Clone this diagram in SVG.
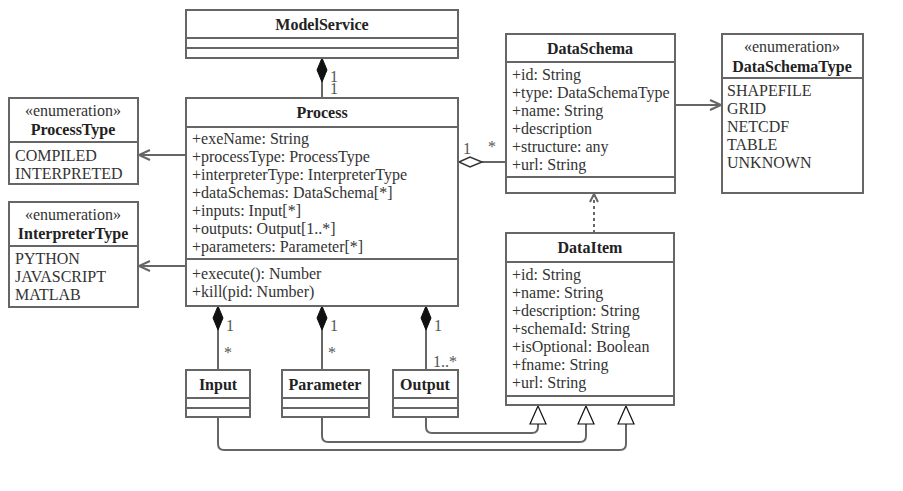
<svg xmlns="http://www.w3.org/2000/svg" width="903" height="491" viewBox="0 0 903 491">
<style>
.box{fill:#fff;stroke:#666;stroke-width:2}
.ln{fill:none;stroke:#666;stroke-width:2}
.t{font-family:"Liberation Serif",serif;font-size:16px;fill:#333}
.b{font-family:"Liberation Serif",serif;font-size:16px;font-weight:bold;fill:#222;text-anchor:middle}
.s{font-family:"Liberation Serif",serif;font-size:16px;fill:#333;text-anchor:middle}
.m{font-family:"Liberation Serif",serif;font-size:16px;fill:#555}
</style>
<rect width="903" height="491" fill="#fff"/>
<g id="connectors">
  <!-- ModelService - Process composition -->
  <line class="ln" x1="322" y1="58" x2="322" y2="98"/>
  <path d="M322 58 L327 70 L322 82 L317 70 Z" fill="#111" stroke="#111"/>
  <text class="m" x="330" y="82">1</text>
  <text class="m" x="330" y="94">1</text>
  <!-- Process to enums -->
  <line class="ln" x1="186" y1="155" x2="139" y2="155"/>
  <path class="ln" d="M150 150 L139 155 L150 160" stroke-width="1.5"/>
  <line class="ln" x1="186" y1="266" x2="139" y2="266"/>
  <path class="ln" d="M150 261 L139 266 L150 271" stroke-width="1.5"/>
  <!-- Process - DataSchema aggregation -->
  <line class="ln" x1="482" y1="162" x2="506" y2="162"/>
  <path d="M459 162 L470 157 L482 162 L470 167 Z" fill="#fff" stroke="#333" stroke-width="1.5"/>
  <text class="m" x="463" y="154">1</text>
  <text class="m" x="488" y="152">*</text>
  <!-- DataSchema to DataSchemaType -->
  <line class="ln" x1="675" y1="105" x2="721" y2="105"/>
  <path class="ln" d="M710 100 L721 105 L710 110" stroke-width="1.5"/>
  <!-- DataItem dependency to DataSchema -->
  <line class="ln" x1="594" y1="233" x2="594" y2="195" stroke-dasharray="3 3"/>
  <path class="ln" d="M590 202 L594 194 L598 202" stroke-width="1.5"/>
  <!-- compositions to Input/Parameter/Output -->
  <line class="ln" x1="218" y1="306" x2="218" y2="370"/>
  <path d="M218 306 L223 318 L218 330 L213 318 Z" fill="#111" stroke="#111"/>
  <text class="m" x="226" y="331">1</text>
  <text class="m" x="224" y="358">*</text>
  <line class="ln" x1="322" y1="306" x2="322" y2="370"/>
  <path d="M322 306 L327 318 L322 330 L317 318 Z" fill="#111" stroke="#111"/>
  <text class="m" x="330" y="331">1</text>
  <text class="m" x="328" y="358">*</text>
  <line class="ln" x1="426" y1="306" x2="426" y2="370"/>
  <path d="M426 306 L431 318 L426 330 L421 318 Z" fill="#111" stroke="#111"/>
  <text class="m" x="434" y="331">1</text>
  <text class="m" x="433" y="367">1..*</text>
  <!-- generalizations -->
  <path class="ln" d="M426 417 L426 427 Q426 433 432 433 L532 433 Q538 433 538 427 L538 424"/>
  <path class="ln" d="M322 417 L322 436 Q322 442 328 442 L580 442 Q586 442 586 436 L586 424"/>
  <path class="ln" d="M218 417 L218 444 Q218 450 224 450 L620 450 Q626 450 626 444 L626 424"/>
  <path d="M538 406 L546 424 L530 424 Z" fill="#fff" stroke="#111" stroke-width="1.2"/>
  <path d="M586 406 L594 424 L578 424 Z" fill="#fff" stroke="#111" stroke-width="1.2"/>
  <path d="M626 406 L634 424 L618 424 Z" fill="#fff" stroke="#111" stroke-width="1.2"/>
</g>
<g id="ModelService">
  <rect class="box" x="186" y="10" width="272" height="48"/>
  <line class="ln" x1="186" y1="38" x2="458" y2="38"/>
  <line class="ln" x1="186" y1="48" x2="458" y2="48"/>
  <text class="b" x="322" y="30">ModelService</text>
</g>
<g id="Process">
  <rect class="box" x="186" y="98" width="272" height="208"/>
  <line class="ln" x1="186" y1="127" x2="458" y2="127"/>
  <line class="ln" x1="186" y1="259" x2="458" y2="259"/>
  <text class="b" x="322" y="118">Process</text>
  <text class="t" x="192" y="144">+exeName: String</text>
  <text class="t" x="192" y="162">+processType: ProcessType</text>
  <text class="t" x="192" y="180">+interpreterType: InterpreterType</text>
  <text class="t" x="192" y="198">+dataSchemas: DataSchema[*]</text>
  <text class="t" x="192" y="216">+inputs: Input[*]</text>
  <text class="t" x="192" y="234">+outputs: Output[1..*]</text>
  <text class="t" x="192" y="252">+parameters: Parameter[*]</text>
  <text class="t" x="192" y="279">+execute(): Number</text>
  <text class="t" x="192" y="297">+kill(pid: Number)</text>
</g>
<g id="ProcessType">
  <rect class="box" x="9" y="98" width="129" height="86"/>
  <line class="ln" x1="9" y1="142" x2="138" y2="142"/>
  <text class="s" x="73" y="116">«enumeration»</text>
  <text class="b" x="73" y="135">ProcessType</text>
  <text class="t" x="15" y="161">COMPILED</text>
  <text class="t" x="15" y="179">INTERPRETED</text>
</g>
<g id="InterpreterType">
  <rect class="box" x="9" y="202" width="129" height="105"/>
  <line class="ln" x1="9" y1="246" x2="138" y2="246"/>
  <text class="s" x="73" y="220">«enumeration»</text>
  <text class="b" x="73" y="239">InterpreterType</text>
  <text class="t" x="15" y="264">PYTHON</text>
  <text class="t" x="15" y="282">JAVASCRIPT</text>
  <text class="t" x="15" y="300">MATLAB</text>
</g>
<g id="DataSchema">
  <rect class="box" x="506" y="34" width="169" height="159"/>
  <line class="ln" x1="506" y1="62" x2="675" y2="62"/>
  <line class="ln" x1="506" y1="177" x2="675" y2="177"/>
  <text class="b" x="590" y="54">DataSchema</text>
  <text class="t" x="512" y="80">+id: String</text>
  <text class="t" x="512" y="98">+type: DataSchemaType</text>
  <text class="t" x="512" y="116">+name: String</text>
  <text class="t" x="512" y="134">+description</text>
  <text class="t" x="512" y="152">+structure: any</text>
  <text class="t" x="512" y="170">+url: String</text>
</g>
<g id="DataSchemaType">
  <rect class="box" x="722" y="34" width="141" height="159"/>
  <line class="ln" x1="722" y1="78" x2="863" y2="78"/>
  <text class="s" x="792" y="52">«enumeration»</text>
  <text class="b" x="792" y="72">DataSchemaType</text>
  <text class="t" x="727" y="96">SHAPEFILE</text>
  <text class="t" x="727" y="114">GRID</text>
  <text class="t" x="727" y="132">NETCDF</text>
  <text class="t" x="727" y="150">TABLE</text>
  <text class="t" x="727" y="168">UNKNOWN</text>
</g>
<g id="DataItem">
  <rect class="box" x="506" y="233" width="168" height="172"/>
  <line class="ln" x1="506" y1="262" x2="674" y2="262"/>
  <line class="ln" x1="506" y1="396" x2="674" y2="396"/>
  <text class="b" x="590" y="253">DataItem</text>
  <text class="t" x="512" y="280">+id: String</text>
  <text class="t" x="512" y="298">+name: String</text>
  <text class="t" x="512" y="316">+description: String</text>
  <text class="t" x="512" y="334">+schemaId: String</text>
  <text class="t" x="512" y="352">+isOptional: Boolean</text>
  <text class="t" x="512" y="370">+fname: String</text>
  <text class="t" x="512" y="388">+url: String</text>
</g>
<g id="Input">
  <rect class="box" x="186" y="370" width="64" height="47"/>
  <line class="ln" x1="186" y1="398" x2="250" y2="398"/>
  <line class="ln" x1="186" y1="408" x2="250" y2="408"/>
  <text class="b" x="218" y="390">Input</text>
</g>
<g id="Parameter">
  <rect class="box" x="282" y="370" width="87" height="47"/>
  <line class="ln" x1="282" y1="398" x2="369" y2="398"/>
  <line class="ln" x1="282" y1="408" x2="369" y2="408"/>
  <text class="b" x="325" y="390">Parameter</text>
</g>
<g id="Output">
  <rect class="box" x="393" y="370" width="65" height="47"/>
  <line class="ln" x1="393" y1="398" x2="458" y2="398"/>
  <line class="ln" x1="393" y1="408" x2="458" y2="408"/>
  <text class="b" x="425" y="390">Output</text>
</g>
</svg>
